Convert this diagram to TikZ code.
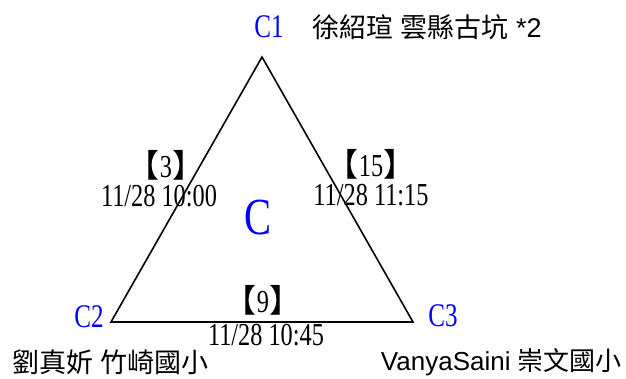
\documentclass[tikz,border=0pt]{standalone}
\usepackage{fontspec}
\setmainfont{Liberation Serif}
\newfontfamily\cjk{Noto Sans CJK TC}
\newfontfamily\lsans{Liberation Sans}
\newfontfamily\nserif[FakeStretch=0.76]{Liberation Serif}
\newfontfamily\bigserif[FakeStretch=0.78]{Liberation Serif}
\begin{document}
\begin{tikzpicture}[x=1pt,y=-1pt,
  vlabel/.style={text=blue, font=\nserif\fontsize{33}{33}\selectfont, inner sep=0pt},
  edgelbl/.style={font=\nserif\fontsize{32}{32}\selectfont, inner sep=0pt},
  brk/.style={font=\nserif\fontsize{32}{32}\selectfont, inner sep=0pt, text depth=0pt},
  namelbl/.style={font=\lsans\fontsize{27}{27}\selectfont, inner sep=0pt},
  tri/.style={draw=black, line width=1.6pt, line join=miter}]
\useasboundingbox (0,0) rectangle (626,378);
\coordinate (A) at (262,57);
\coordinate (B) at (111,322);
\coordinate (Cc) at (413,322);
\draw[tri] (A) -- (B) -- (Cc) -- cycle;
\node[vlabel] (c1) at (269,27) {C1};
\node[vlabel] (c2) at (89,317) {C2};
\node[vlabel] (c3) at (443,316) {C3};
\node[text=blue, font=\bigserif\fontsize{52}{52}\selectfont, inner sep=0pt] (cc) at (258,218) {C};
\node[namelbl, anchor=west] (n1) at (312,27) {{\cjk 徐紹瑄} {\cjk 雲縣古坑} *2};
\node[namelbl, anchor=west] (n2) at (12,362) {{\cjk 劉真妡} {\cjk 竹崎國小}};
\node[namelbl, anchor=east, font=\lsans\fontsize{26}{26}\selectfont] (n3) at (622,362) {VanyaSaini {\cjk 崇文國小}};
\node[brk] (b1) at (166,164) {{\cjk 【}3{\cjk 】}};
\node[edgelbl] (t1) at (159,196) {11/28 10:00};
\node[brk] (b2) at (371,163) {{\cjk 【}15{\cjk 】}};
\node[edgelbl] (t2) at (371,195) {11/28 11:15};
\node[brk] (b3) at (263,299) {{\cjk 【}9{\cjk 】}};
\node[edgelbl] (t3) at (266,335) {11/28 10:45};
\end{tikzpicture}
\end{document}
